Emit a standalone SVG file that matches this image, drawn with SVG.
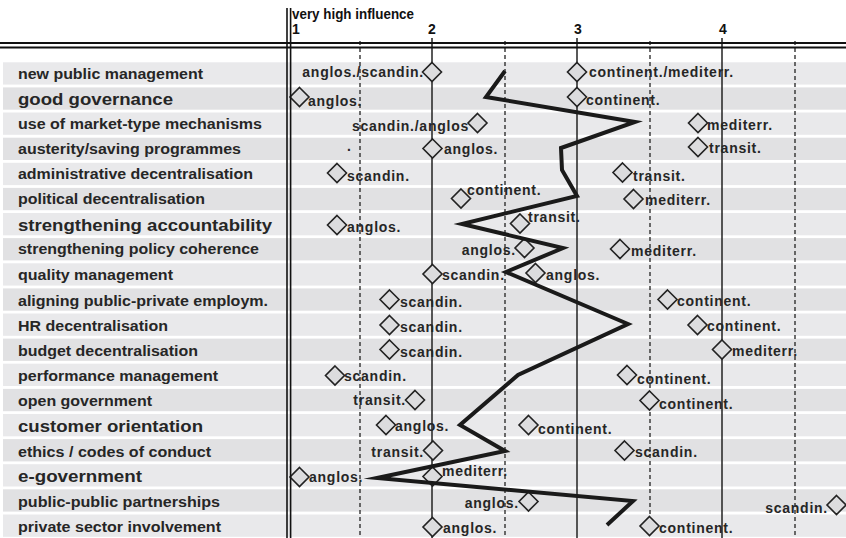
<svg xmlns="http://www.w3.org/2000/svg" width="846" height="538" viewBox="0 0 846 538">
  <style>
    text { font-family: "Liberation Sans", Arial, sans-serif; font-weight: bold; fill: #262626; }
    .lbl { font-size: 14px; }
    .big { font-size: 16.5px; }
    .dat { font-size: 14px; letter-spacing: 0.75px; }
    .end { text-anchor: end; }
    .hdr { font-size: 14px; fill: #111; }
    .num { font-size: 14px; text-anchor: middle; fill: #111; }
    .bandA { fill: #e9e9eb; }
    .bandB { fill: #e1e1e3; }
    .solid { stroke: #222; stroke-width: 1.5; }
    .dash { stroke: #222; stroke-width: 1.3; stroke-dasharray: 4 3; }
    .dm { fill: #dcdcde; stroke: #222; stroke-width: 1.6; }
    .rule { stroke: #111; stroke-width: 2.2; }
    .trend { fill: none; stroke: #1a1a1a; stroke-width: 4; stroke-linejoin: miter; stroke-miterlimit: 10; }
  </style>
  <defs>
    <path id="dia" d="M0,-9.5 L9.5,0 L0,9.5 L-9.5,0 Z"/>
  </defs>

  <rect width="846" height="538" fill="#ffffff"/>

  <!-- row bands -->
  <g id="bands">
    <rect class="bandA" x="3" y="62.3" width="843" height="22.3"/>
    <rect class="bandB" x="3" y="87.4" width="843" height="22.3"/>
    <rect class="bandA" x="3" y="112.5" width="843" height="22.3"/>
    <rect class="bandB" x="3" y="137.7" width="843" height="22.3"/>
    <rect class="bandA" x="3" y="162.8" width="843" height="22.3"/>
    <rect class="bandB" x="3" y="187.9" width="843" height="22.3"/>
    <rect class="bandA" x="3" y="213.0" width="843" height="22.3"/>
    <rect class="bandB" x="3" y="238.1" width="843" height="22.3"/>
    <rect class="bandA" x="3" y="263.3" width="843" height="22.3"/>
    <rect class="bandB" x="3" y="288.4" width="843" height="22.3"/>
    <rect class="bandA" x="3" y="313.5" width="843" height="22.3"/>
    <rect class="bandB" x="3" y="338.6" width="843" height="22.3"/>
    <rect class="bandA" x="3" y="363.7" width="843" height="22.3"/>
    <rect class="bandB" x="3" y="388.9" width="843" height="22.3"/>
    <rect class="bandA" x="3" y="414.0" width="843" height="22.3"/>
    <rect class="bandB" x="3" y="439.1" width="843" height="22.3"/>
    <rect class="bandA" x="3" y="464.2" width="843" height="22.3"/>
    <rect class="bandB" x="3" y="489.3" width="843" height="22.3"/>
    <rect class="bandA" x="3" y="514.5" width="843" height="22.3"/>
  </g>

  <!-- scale grid: solid at 2, 3, 4; dashed at half steps -->
  <g id="grid">
    <line class="dash" x1="360" y1="41" x2="360" y2="538"/>
    <line class="dash" x1="505" y1="41" x2="505" y2="538"/>
    <line class="dash" x1="650" y1="41" x2="650" y2="538"/>
    <line class="dash" x1="795" y1="41" x2="795" y2="538"/>
    <line class="solid" x1="432" y1="38" x2="432" y2="538"/>
    <line class="solid" x1="577" y1="38" x2="577" y2="538"/>
    <line class="solid" x1="722" y1="38" x2="722" y2="538"/>
  </g>

  <!-- header -->
  <g id="header">
    <text class="hdr" x="292" y="19" textLength="122" lengthAdjust="spacingAndGlyphs">very high influence</text>
    <text class="num" x="296" y="34">1</text>
    <text class="num" x="432" y="34">2</text>
    <text class="num" x="578" y="34">3</text>
    <text class="num" x="723" y="34">4</text>
    <line class="rule" x1="0" y1="43" x2="846" y2="43"/>
    <line class="rule" x1="0" y1="47.5" x2="846" y2="47.5"/>
  </g>

  <!-- rows -->
  <g id="row-npm">
    <text class="lbl" x="18" y="78.5" textLength="185" lengthAdjust="spacingAndGlyphs">new public management</text>
    <text class="dat end" x="424" y="77">anglos./scandin.</text>
    <use href="#dia" class="dm" x="432" y="72"/>
    <use href="#dia" class="dm" x="577" y="72"/>
    <text class="dat" x="589" y="77">continent./mediterr.</text>
  </g>
  <g id="row-good-governance">
    <text class="big" x="18" y="104.6" textLength="155" lengthAdjust="spacingAndGlyphs">good governance</text>
    <use href="#dia" class="dm" x="299.5" y="97"/>
    <text class="dat" x="308" y="105.5">anglos.</text>
    <use href="#dia" class="dm" x="577" y="97"/>
    <text class="dat" x="586" y="105">continent.</text>
  </g>
  <g id="row-market">
    <text class="lbl" x="18" y="128.5" textLength="244" lengthAdjust="spacingAndGlyphs">use of market-type mechanisms</text>
    <text class="dat end" x="469" y="131">scandin./anglos</text>
    <use href="#dia" class="dm" x="477.5" y="123"/>
    <use href="#dia" class="dm" x="698" y="123"/>
    <text class="dat" x="707" y="130">mediterr.</text>
  </g>
  <g id="row-austerity">
    <text class="lbl" x="18" y="153.8" textLength="223" lengthAdjust="spacingAndGlyphs">austerity/saving programmes</text>
    <text class="dat" x="347" y="151">.</text>
    <use href="#dia" class="dm" x="432.5" y="148.5"/>
    <text class="dat" x="444" y="153.5">anglos.</text>
    <use href="#dia" class="dm" x="698" y="147"/>
    <text class="dat" x="709" y="153">transit.</text>
  </g>
  <g id="row-admin-decentralisation">
    <text class="lbl" x="18" y="179" textLength="235" lengthAdjust="spacingAndGlyphs">administrative decentralisation</text>
    <use href="#dia" class="dm" x="337" y="173"/>
    <text class="dat" x="347" y="181">scandin.</text>
    <use href="#dia" class="dm" x="622.5" y="172.5"/>
    <text class="dat" x="633" y="181">transit.</text>
  </g>
  <g id="row-political-decentralisation">
    <text class="lbl" x="18" y="204.1" textLength="187" lengthAdjust="spacingAndGlyphs">political decentralisation</text>
    <use href="#dia" class="dm" x="461" y="198.5"/>
    <text class="dat" x="467" y="195">continent.</text>
    <use href="#dia" class="dm" x="633.5" y="199"/>
    <text class="dat" x="645" y="205">mediterr.</text>
  </g>
  <g id="row-accountability">
    <text class="big" x="18" y="230.6" textLength="254" lengthAdjust="spacingAndGlyphs">strengthening accountability</text>
    <use href="#dia" class="dm" x="337" y="225"/>
    <text class="dat" x="347" y="231.5">anglos.</text>
    <use href="#dia" class="dm" x="520" y="223.5"/>
    <text class="dat" x="528" y="222">transit.</text>
  </g>
  <g id="row-policy-coherence">
    <text class="lbl" x="18" y="254.3" textLength="241" lengthAdjust="spacingAndGlyphs">strengthening policy coherence</text>
    <text class="dat end" x="516" y="255">anglos.</text>
    <use href="#dia" class="dm" x="524.5" y="248"/>
    <use href="#dia" class="dm" x="620" y="249"/>
    <text class="dat" x="631" y="256">mediterr.</text>
  </g>
  <g id="row-quality">
    <text class="lbl" x="18" y="279.5" textLength="155" lengthAdjust="spacingAndGlyphs">quality management</text>
    <use href="#dia" class="dm" x="432.5" y="274"/>
    <text class="dat" x="442" y="280">scandin.</text>
    <use href="#dia" class="dm" x="535.5" y="273"/>
    <text class="dat" x="546" y="280">anglos.</text>
  </g>
  <g id="row-employment">
    <text class="lbl" x="18" y="305.6" textLength="250" lengthAdjust="spacingAndGlyphs">aligning public-private employm.</text>
    <use href="#dia" class="dm" x="389.5" y="299.5"/>
    <text class="dat" x="400" y="306.5">scandin.</text>
    <use href="#dia" class="dm" x="667.5" y="299.5"/>
    <text class="dat" x="677" y="306">continent.</text>
  </g>
  <g id="row-hr">
    <text class="lbl" x="18" y="330.7" textLength="150" lengthAdjust="spacingAndGlyphs">HR decentralisation</text>
    <use href="#dia" class="dm" x="389.5" y="325"/>
    <text class="dat" x="400" y="331.5">scandin.</text>
    <use href="#dia" class="dm" x="697.5" y="325"/>
    <text class="dat" x="707" y="331">continent.</text>
  </g>
  <g id="row-budget">
    <text class="lbl" x="18" y="356.2" textLength="180" lengthAdjust="spacingAndGlyphs">budget decentralisation</text>
    <use href="#dia" class="dm" x="389.5" y="349.5"/>
    <text class="dat" x="400" y="356.5">scandin.</text>
    <use href="#dia" class="dm" x="722" y="349.5"/>
    <text class="dat" x="732" y="356">mediterr.</text>
  </g>
  <g id="row-performance">
    <text class="lbl" x="18" y="381" textLength="200" lengthAdjust="spacingAndGlyphs">performance management</text>
    <use href="#dia" class="dm" x="335" y="375.5"/>
    <text class="dat" x="344" y="380.5">scandin.</text>
    <use href="#dia" class="dm" x="627" y="375"/>
    <text class="dat" x="637" y="384">continent.</text>
  </g>
  <g id="row-open-government">
    <text class="lbl" x="18" y="406.2" textLength="134" lengthAdjust="spacingAndGlyphs">open government</text>
    <text class="dat end" x="406" y="405">transit.</text>
    <use href="#dia" class="dm" x="415" y="400"/>
    <use href="#dia" class="dm" x="649.5" y="400.5"/>
    <text class="dat" x="659" y="409">continent.</text>
  </g>
  <g id="row-customer">
    <text class="big" x="18" y="431.6" textLength="185" lengthAdjust="spacingAndGlyphs">customer orientation</text>
    <use href="#dia" class="dm" x="386" y="425"/>
    <text class="dat" x="395" y="430.5">anglos.</text>
    <use href="#dia" class="dm" x="528.5" y="425"/>
    <text class="dat" x="538" y="433.5">continent.</text>
  </g>
  <g id="row-ethics">
    <text class="lbl" x="18" y="456.5" textLength="193" lengthAdjust="spacingAndGlyphs">ethics / codes of conduct</text>
    <text class="dat end" x="424" y="456.5">transit.</text>
    <use href="#dia" class="dm" x="433" y="450.5"/>
    <use href="#dia" class="dm" x="624.5" y="450.5"/>
    <text class="dat" x="635" y="457">scandin.</text>
  </g>
  <g id="row-e-government">
    <text class="big" x="18" y="481.7" textLength="124" lengthAdjust="spacingAndGlyphs">e-government</text>
    <use href="#dia" class="dm" x="299.5" y="477"/>
    <text class="dat" x="309" y="481.5">anglos.</text>
    <use href="#dia" class="dm" x="432.5" y="476.5"/>
    <text class="dat" x="442" y="476">mediterr.</text>
  </g>
  <g id="row-public-public">
    <text class="lbl" x="18" y="506.7" textLength="202" lengthAdjust="spacingAndGlyphs">public-public partnerships</text>
    <text class="dat end" x="519" y="508.3">anglos.</text>
    <use href="#dia" class="dm" x="528.5" y="501.5"/>
    <text class="dat end" x="828" y="512.5">scandin.</text>
    <use href="#dia" class="dm" x="836.5" y="505"/>
  </g>
  <g id="row-private-sector">
    <text class="lbl" x="18" y="531.8" textLength="203" lengthAdjust="spacingAndGlyphs">private sector involvement</text>
    <use href="#dia" class="dm" x="432.5" y="527"/>
    <text class="dat" x="443" y="532.5">anglos.</text>
    <use href="#dia" class="dm" x="649.5" y="526"/>
    <text class="dat" x="659" y="532.5">continent.</text>
  </g>

  <!-- overall profile line -->
  <g id="connectors">
    <polyline class="trend" points="505,71 486,97 635,122 561,148 562,170 577,196 462,224 563,248 506,272 628,324 518,375 460,425 505,451 377,478 633,501 607,525"/>
  </g>

  <!-- divider between label column and scale -->
  <g id="divider">
    <line stroke="#111" stroke-width="1.6" x1="287" y1="8" x2="287" y2="538"/>
    <line stroke="#111" stroke-width="1.6" x1="290.6" y1="8" x2="290.6" y2="538"/>
  </g>
</svg>
